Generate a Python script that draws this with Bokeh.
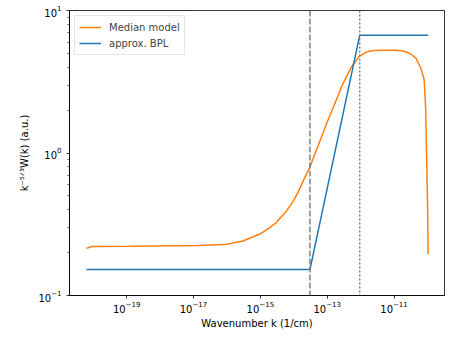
from bokeh.plotting import figure
from bokeh.models import Range1d, FixedTicker, LogTickFormatter, Span, Legend, LegendItem
from bokeh.embed import file_html
from bokeh.resources import INLINE

# Median model curve (wavenumber k in 1/cm, k^{-5/3} W(k) in a.u.)
k_median = [6.3e-21, 9.1e-21, 1.2e-19, 1.34e-17, 1.0e-16, 3.0e-16, 1.0e-15,
            1.86e-15, 3.0e-15, 5.71e-15, 1.0e-14, 1.40e-14, 2.0e-14, 3.08e-14,
            5.38e-14, 9.48e-14, 1.66e-13, 2.90e-13, 5.10e-13, 8.91e-13, 1.56e-12,
            2.45e-12, 4.8e-12, 1.15e-11, 1.84e-11, 2.90e-11, 4.52e-11, 6.32e-11,
            7.96e-11, 8.85e-11, 9.48e-11, 1.01e-10, 1.05e-10]
w_median = [0.214, 0.221, 0.222, 0.224, 0.229, 0.241, 0.271,
            0.298, 0.325, 0.385, 0.465, 0.540, 0.65, 0.803,
            1.13, 1.60, 2.20, 3.03, 3.95, 4.75, 5.14,
            5.23, 5.26, 5.26, 5.20, 5.01, 4.63, 3.95,
            3.28, 2.03, 0.916, 0.413, 0.195]

# approximate broken power law
k_bpl = [6.3e-21, 3.05e-14, 9.4e-13, 1.05e-10]
w_bpl = [0.152, 0.152, 6.7, 6.7]

# break positions (vertical lines)
k_break_dashed = 3.05e-14
k_break_dotted = 9.4e-13

x_ticks = [1e-19, 1e-17, 1e-15, 1e-13, 1e-11]
y_ticks = [0.1, 1.0, 10.0]
y_minor = [0.2, 0.3, 0.4, 0.5, 0.6, 0.7, 0.8, 0.9, 2, 3, 4, 5, 6, 7, 8, 9]

ORANGE = "#ff7f0e"
BLUE = "#1f77b4"
FONT = "DejaVu Sans"

p = figure(width=445, height=331, x_axis_type="log", y_axis_type="log",
           output_backend="svg", toolbar_location=None,
           x_range=Range1d(10 ** -20.71, 10 ** -9.49), y_range=Range1d(0.1, 10),
           min_border_left=69, min_border_right=1, min_border_top=10, min_border_bottom=32)

p.xgrid.visible = False
p.ygrid.visible = False
p.outline_line_color = "black"
p.outline_line_width = 0.8
p.outline_line_alpha = 1.0

r_med = p.line(k_median, w_median, line_color=ORANGE, line_width=1.5)
r_bpl = p.line(k_bpl, w_bpl, line_color=BLUE, line_width=1.5)

p.add_layout(Span(location=k_break_dashed, dimension="height", line_color="#7f7f7f",
                  line_width=1.5, line_dash="6 2"))
p.add_layout(Span(location=k_break_dotted, dimension="height", line_color="#7f7f7f",
                  line_width=1.5, line_dash="2 2"))

for ax in (p.xaxis[0], p.yaxis[0]):
    ax.axis_line_color = "black"
    ax.axis_line_width = 0.8
    ax.major_tick_line_width = 0.8
    ax.minor_tick_line_width = 0.6
    ax.major_tick_in = 0
    ax.major_tick_out = 3
    ax.minor_tick_in = 0
    ax.minor_tick_out = 2
    ax.major_label_text_font = FONT
    ax.major_label_text_font_size = "10px"
    ax.major_label_text_color = "black"
    ax.axis_label_text_font = FONT
    ax.axis_label_text_font_size = "10px"
    ax.axis_label_text_font_style = "normal"
    ax.axis_label_text_color = "black"
    ax.formatter = LogTickFormatter()

p.xaxis.ticker = FixedTicker(ticks=x_ticks, minor_ticks=[])
p.yaxis.ticker = FixedTicker(ticks=y_ticks, minor_ticks=y_minor)
p.xaxis.axis_label = "Wavenumber k (1/cm)"
p.yaxis.axis_label = "k⁻⁵ᐟ³W(k) (a.u.)"
p.xaxis.major_label_standoff = 2
p.yaxis.major_label_standoff = 5
p.xaxis.axis_label_standoff = 2
p.yaxis.axis_label_standoff = 5

legend = Legend(items=[LegendItem(label="Median model", renderers=[r_med]),
                       LegendItem(label="approx. BPL", renderers=[r_bpl])],
                location="top_left")
legend.label_text_font = FONT
legend.label_text_font_size = "10px"
legend.border_line_color = "#cccccc"
legend.border_line_width = 1
legend.background_fill_alpha = 0.8
legend.padding = 4
legend.spacing = 2
legend.margin = 5
legend.label_height = 14
legend.glyph_height = 14
legend.glyph_width = 22
legend.label_standoff = 8
p.add_layout(legend)

open("out.html", "w").write(file_html(p, INLINE))
